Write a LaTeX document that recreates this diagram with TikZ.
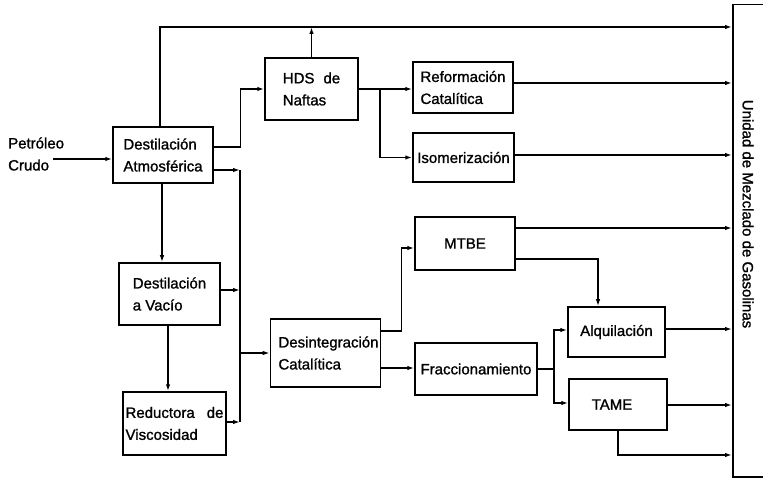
\documentclass[tikz,border=0pt]{standalone}
\usepackage{fontspec}
\setmainfont[FakeBold=1.2]{Liberation Sans}
\usetikzlibrary{arrows.meta}
\begin{document}
\begin{tikzpicture}[x=1pt,y=-1pt,
  every node/.style={font=\fontsize{15}{22}\selectfont},
  box/.style={draw, line width=1.5pt, align=left, inner sep=2pt},
  arr/.style={-{Latex[length=7pt,width=4.5pt]}, line width=1.4pt},
  wire/.style={line width=1.4pt}]
\useasboundingbox (0,0) rectangle (763,478);
\clip (0,0) rectangle (763,478);
\fill[white] (0,0) rectangle (763,478);

% blending unit (open to the right)
\node[draw, line width=1.5pt, minimum width=90pt, minimum height=472pt,
      anchor=north west, inner sep=0pt] (mix) at (732,4) {};
\node[rotate=-90] (mixT) at (748,214) {Unidad de Mezclado de Gasolinas};

% process units
\node[align=left, anchor=west, inner sep=0pt] (crudo) at (8,154) {Petróleo\\Crudo};
\node[box, minimum width=100pt, minimum height=56pt] (atm) at (163,155) {Destilación\\Atmosférica};
\node[box, minimum width=93pt, minimum height=62pt] (hds) at (311.5,89) {HDS\hspace{0.6em}de\\Naftas};
\node[box, minimum width=100pt, minimum height=51pt] (ref) at (463,87.5) {Reformación\\Catalítica};
\node[box, minimum width=101pt, minimum height=49pt] (iso) at (463.5,157.5) {Isomerización};
\node[box, minimum width=100pt, minimum height=53pt] (mtbe) at (465,243.5) {MTBE};
\node[box, minimum width=101pt, minimum height=62pt] (vac) at (169.5,294) {Destilación\\a Vacío};
\node[box, minimum width=103pt, minimum height=63pt] (red) at (174.5,423.5) {Reductora\hspace{12pt}de\\Viscosidad};
\node[box, minimum width=109pt, minimum height=68pt] (des) at (325.5,353) {\hspace{6pt}Desintegración\\\hspace{6pt}Catalítica};
\node[box, minimum width=122pt, minimum height=52pt] (fra) at (476,369) {Fraccionamiento};
\node[box, minimum width=97pt, minimum height=50pt] (alq) at (616.5,332) {Alquilación};
\node[box, minimum width=98pt, minimum height=51pt] (tame) at (618,404.5) {TAME\hspace{12pt}};

% junction points
\coordinate (in) at (53,159);
\coordinate (top) at (160,27);
\coordinate (busT) at (240,170);
\coordinate (busB) at (240,422);
\coordinate (b1) at (380,89);
\coordinate (b2) at (554,369);

% crude feed
\draw[arr] (in) -- (in -| atm.west);

% bypass along the top
\draw[arr] (atm.north -| top) -- (top) -- (mix.west |- top);
\draw[arr] (hds.north) -- (hds.north |- top);

% atmospheric distillation outputs
\draw[arr] (atm.east |- 0,147) -- ++(27,0) |- (hds.west);
\draw[arr] (atm.east |- busT) -- (busT);
\draw[wire] (busT) -- (busB);
\draw[arr] (atm.south -| 162,0) -- (vac.north -| 162,0);
\draw[arr] (vac.south -| 168,0) -- (red.north -| 168,0);
\draw[arr] (vac.east |- 0,290) -- (busT |- 0,290);
\draw[arr] (red.east |- busB) -- (busB);
\draw[arr] (busT |- des.west) -- (des.west);

% naphtha train
\draw[arr] (hds.east) -- (hds.east -| ref.west);
\draw[arr] (b1) |- (iso.west);
\draw[arr] (ref.east |- 0,83) -- (mix.west |- 0,83);
\draw[arr] (iso.east |- 0,155) -- (mix.west |- 0,155);

% catalytic cracking products
\draw[arr] (des.east |- 0,331) -- ++(20,0) |- (mtbe.west |- 0,248);
\draw[arr] (des.east |- 0,368) -- (fra.west |- 0,368);
\draw[arr] (mtbe.east |- 0,228) -- (mix.west |- 0,228);
\draw[arr] (mtbe.east |- 0,259) -| (alq.north -| 598,0);
\draw[wire] (fra.east) -- (b2);
\draw[arr] (b2) |- (alq.west |- 0,330);
\draw[arr] (b2) |- (tame.west |- 0,403);
\draw[arr] (alq.east |- 0,329) -- (mix.west |- 0,329);
\draw[arr] (tame.east |- 0,405) -- (mix.west |- 0,405);
\draw[arr] (tame.south) |- (mix.west |- 0,455);
\end{tikzpicture}
\end{document}
